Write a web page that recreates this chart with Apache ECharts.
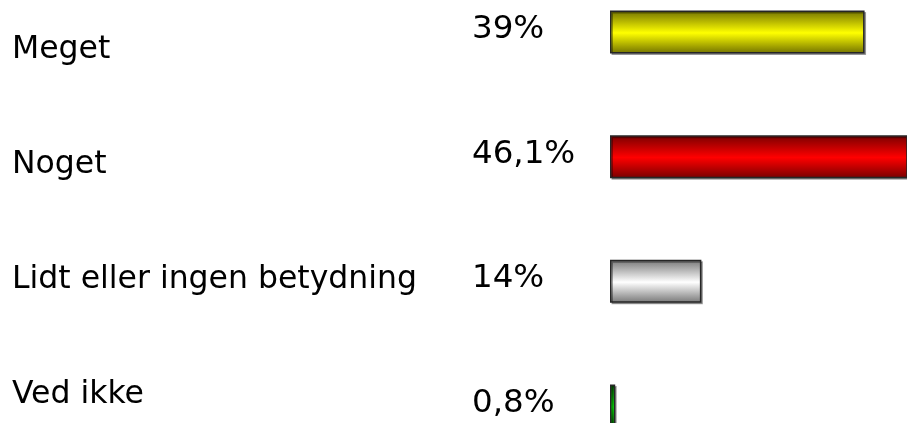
<!DOCTYPE html>
<html>
<head>
<meta charset="utf-8">
<script src="https://cdn.jsdelivr.net/npm/echarts@6/dist/echarts.min.js"></script>
<style>
  html, body { margin: 0; padding: 0; background: #fff; }
  #chart { width: 907px; height: 423px; }
</style>
</head>
<body>
<div id="chart"></div>
<script>
// Survey answers and their shares
const categories = ['Meget', 'Noget', 'Lidt eller ingen betydning', 'Ved ikke'];
const values = [39, 46.1, 14, 0.8];
const valueLabels = ['39%', '46,1%', '14%', '0,8%'];
// Per-bar shading: [edge colour, centre highlight]
const barShades = [
  ['#727200', '#ffff00'],
  ['#780000', '#ff0000'],
  ['#777777', '#ffffff'],
  ['#005400', '#00ff00']
];

const FONT = 'DejaVu Sans';

function cylinder(shade) {
  return new echarts.graphic.LinearGradient(0, 0, 0, 1, [
    { offset: 0, color: shade[0] },
    { offset: 0.52, color: shade[1] },
    { offset: 1, color: shade[0] }
  ]);
}

const barData = values.map((v, i) => ({
  value: v,
  label: { formatter: valueLabels[i] },
  itemStyle: { color: cylinder(barShades[i]) }
}));

const chart = echarts.init(document.getElementById('chart'), null, { renderer: 'canvas' });
chart.setOption({
  backgroundColor: '#ffffff',
  animation: false,
  grid: [
    // bar area runs to the right edge; the widest bar is cut there
    { left: 610, top: 32, right: 0, height: 374 },
    { left: 12, top: 50, width: 100, height: 345 }
  ],
  xAxis: [
    { gridIndex: 0, type: 'value', min: 0, max: 45.5, show: false },
    { gridIndex: 1, type: 'value', min: 0, max: 1, show: false }
  ],
  yAxis: [
    {
      gridIndex: 0, type: 'category', data: categories, inverse: true,
      boundaryGap: false, show: false
    },
    {
      gridIndex: 1, type: 'category', data: categories, inverse: true,
      boundaryGap: false,
      axisLine: { show: false }, axisTick: { show: false }, splitLine: { show: false },
      axisLabel: {
        inside: true, margin: 0, align: 'left',
        color: '#000', fontFamily: FONT, fontSize: 31.5
      }
    }
  ],
  series: [{
    type: 'bar',
    xAxisIndex: 0, yAxisIndex: 0,
    barWidth: 43,
    clip: true,
    data: barData,
    itemStyle: {
      borderColor: '#262626', borderWidth: 1.5,
      shadowColor: 'rgba(0,0,0,0.35)', shadowOffsetX: 1.5, shadowOffsetY: 1.5, shadowBlur: 0
    },
    label: {
      show: true,
      position: [-138, '50%'],
      align: 'left', verticalAlign: 'middle',
      offset: [0, -2.5],
      color: '#000', fontFamily: FONT, fontSize: 32.5
    }
  }]
});
</script>
</body>
</html>
